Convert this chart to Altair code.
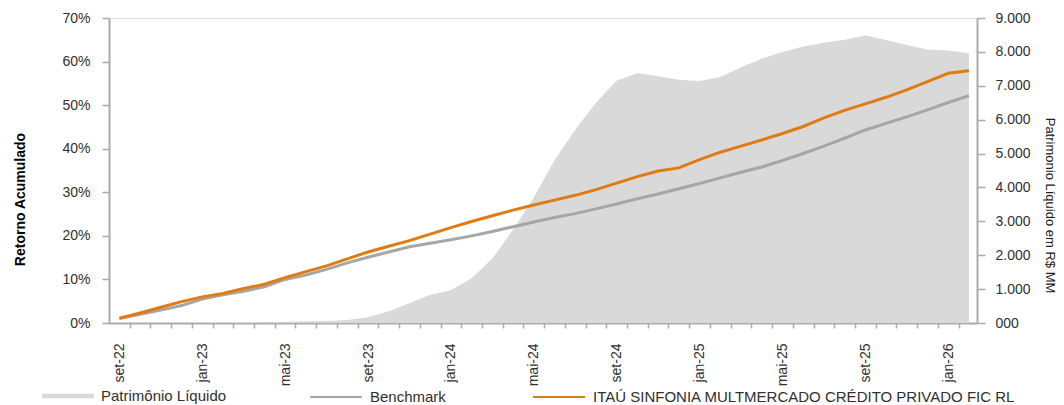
import json
import altair as alt
import pandas as pd

meses = ["set-22", "out-22", "nov-22", "dez-22",
         "jan-23", "fev-23", "mar-23", "abr-23", "mai-23", "jun-23", "jul-23", "ago-23", "set-23", "out-23", "nov-23", "dez-23",
         "jan-24", "fev-24", "mar-24", "abr-24", "mai-24", "jun-24", "jul-24", "ago-24", "set-24", "out-24", "nov-24", "dez-24",
         "jan-25", "fev-25", "mar-25", "abr-25", "mai-25", "jun-25", "jul-25", "ago-25", "set-25", "out-25", "nov-25", "dez-25",
         "jan-26", "fev-26"]

# Patrimônio Líquido (R$ MM)
pl = [0, 5, 10, 15, 20, 25, 30, 35, 40, 50, 60, 90, 170, 350, 580, 830, 970, 1320, 1900, 2750, 3700,
      4800, 5700, 6500, 7150, 7380, 7280, 7180, 7140, 7260, 7550, 7800, 8000, 8160, 8270, 8360, 8480,
      8350, 8200, 8070, 8040, 7960]

# Retorno acumulado (%)
fundo = [1.1, 2.3, 3.6, 4.9, 6.0, 6.8, 7.9, 8.9, 10.4, 11.8, 13.1, 14.7, 16.3, 17.6, 18.9, 20.4, 21.9,
         23.3, 24.6, 25.9, 27.1, 28.2, 29.3, 30.6, 32.1, 33.6, 34.9, 35.6, 37.5, 39.2, 40.6, 42.0, 43.5,
         45.1, 47.1, 48.8, 50.3, 51.8, 53.5, 55.4, 57.3, 57.9]
bench = [1.0, 2.0, 3.0, 4.0, 5.5, 6.5, 7.3, 8.3, 10.0, 11.0, 12.3, 13.8, 15.1, 16.3, 17.5, 18.3, 19.1,
         20.0, 21.0, 22.1, 23.2, 24.2, 25.1, 26.2, 27.3, 28.5, 29.6, 30.8, 32.0, 33.3, 34.6, 35.8, 37.3,
         38.9, 40.6, 42.4, 44.3, 45.8, 47.3, 48.9, 50.6, 52.2]

nomes = ["Patrimônio Líquido", "Benchmark", "ITAÚ SINFONIA MULTMERCADO CRÉDITO PRIVADO FIC RL"]
cores = ["#d9d9d9", "#a8a6a3", "#e07b12"]

W, H = 868, 305
XMAX = 41.89
half = W / XMAX / 2

pos = [i + 0.5 for i in range(len(meses))]
df_area = pd.DataFrame({"pos": pos, "pl": pl, "serie": nomes[0]})
df_lines = pd.concat([
    pd.DataFrame({"pos": pos, "ret": [v / 100 for v in bench], "serie": nomes[1]}),
    pd.DataFrame({"pos": pos, "ret": [v / 100 for v in fundo], "serie": nomes[2]}),
])

FONT = "Liberation Sans"
TXT = "#303030"
AX = "#ababab"

x_axis = alt.Axis(
    values=[i + 0.5 for i in range(len(meses) - 1)],
    tickOffset=half, labelOffset=-half,
    labelAngle=-90, labelFontSize=14, labelColor=TXT, labelFont=FONT,
    labelExpr=f"floor(datum.value) % 4 == 0 ? {json.dumps(meses)}[floor(datum.value)] : ''",
    tickSize=5, labelPadding=15, grid=False, title=None,
    domainColor=AX, domainWidth=2, tickColor=AX, tickWidth=1.5,
)
x_enc = alt.X("pos:Q", scale=alt.Scale(domain=[0, XMAX], nice=False, zero=False), axis=x_axis)

leg_common = dict(
    orient="none", direction="horizontal", title=None, symbolSize=2704,
    symbolOpacity=1, labelFontSize=15, labelFont=FONT, labelColor=TXT, labelOffset=7,
    columnPadding=83, padding=0, labelLimit=600,
)
legend_area = alt.Legend(legendX=-67, legendY=352, symbolType="M-1,-0.09H1V0.09H-1Z",
                         symbolStrokeWidth=0, **leg_common)
legend_lines = alt.Legend(legendX=200, legendY=352, symbolType="stroke",
                          symbolStrokeWidth=2, **leg_common)

area = alt.Chart(df_area).mark_area(opacity=1, interpolate="linear").encode(
    x=x_enc,
    y=alt.Y("pl:Q", scale=alt.Scale(domain=[0, 9000], nice=False),
            axis=alt.Axis(orient="right", values=list(range(0, 9001, 1000)),
                          labelExpr="datum.value == 0 ? '000' : replace(format(datum.value, ',.0f'), ',', '.')",
                          tickSize=8, labelPadding=10, labelFontSize=14, labelColor=TXT, labelFont=FONT,
                          grid=False, domainColor=AX, domainWidth=2, tickColor=AX, tickWidth=1.5,
                          title="Patrimonio Líquido em R$ MM", titleFont=FONT, titleFontSize=13,
                          titleFontWeight="normal", titleColor="#202020", titleAngle=90,
                          titleAlign="center", titleBaseline="alphabetic", titleX=68, titleY=187)),
    fill=alt.Fill("serie:N", scale=alt.Scale(domain=nomes[:1], range=cores[:1]), legend=legend_area),
)

lines = alt.Chart(df_lines).mark_line(strokeWidth=3, strokeCap="butt").encode(
    x=x_enc,
    y=alt.Y("ret:Q", scale=alt.Scale(domain=[0, 0.7], nice=False),
            axis=alt.Axis(orient="left", values=[i / 10 for i in range(8)], format=".0%",
                          tickSize=7, labelPadding=12, labelFontSize=14, labelColor=TXT, labelFont=FONT,
                          grid=False, domainColor=AX, domainWidth=2, tickColor=AX, tickWidth=1.5,
                          title="Retorno Acumulado", titleFont=FONT, titleFontSize=14,
                          titleFontWeight="bold", titleColor="#000000", titleAngle=-90,
                          titleAlign="center", titleBaseline="alphabetic", titleX=-85, titleY=181)),
    stroke=alt.Stroke("serie:N", scale=alt.Scale(domain=nomes[1:], range=cores[1:]), legend=legend_lines),
    order=alt.Order("serie:N"),
)

chart = alt.layer(area, lines).resolve_scale(y="independent").properties(
    width=W, height=H,
    autosize=alt.AutoSizeParams(type="none"),
    padding={"left": 101, "top": 10, "right": 79, "bottom": 82},
    background="white",
).configure_view(stroke="#d0d0d0", strokeWidth=2).configure(font=FONT)

chart.save("out.html", embed_options={"renderer": "svg", "actions": False})
